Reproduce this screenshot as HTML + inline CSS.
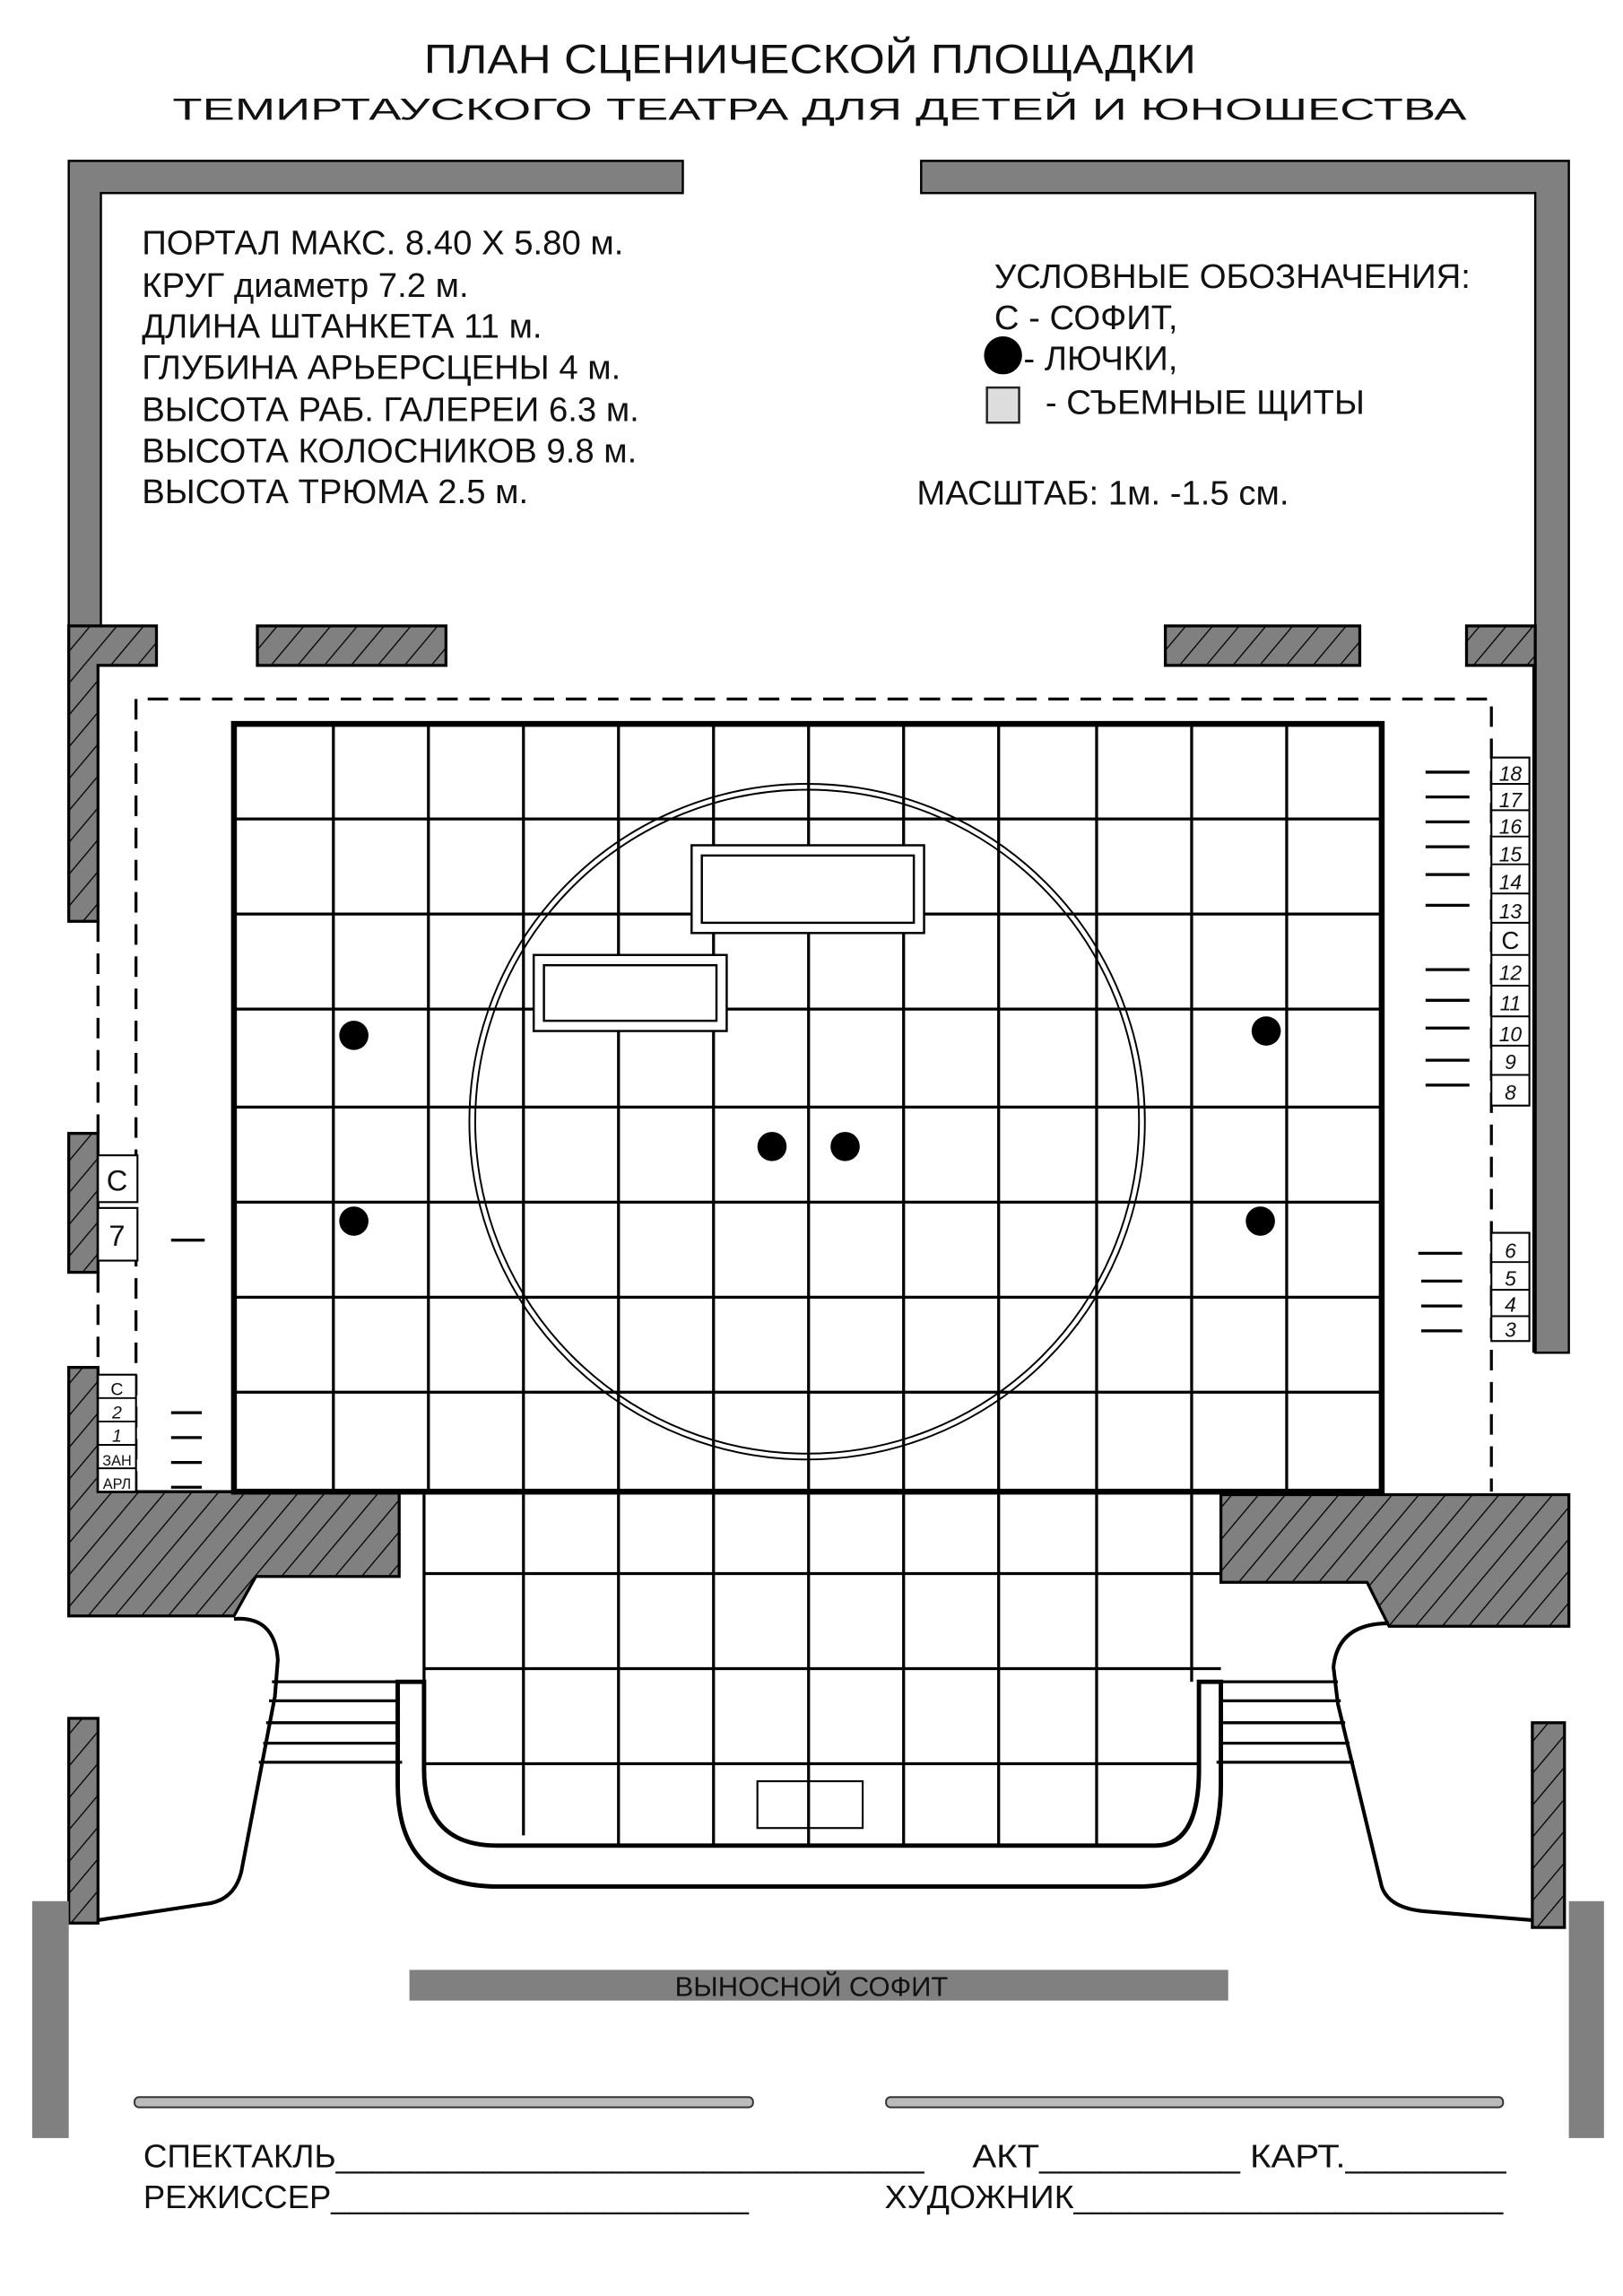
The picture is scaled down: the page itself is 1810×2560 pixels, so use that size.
<!DOCTYPE html>
<html><head><meta charset="utf-8"><style>
html,body{margin:0;padding:0;background:#fff;}
svg{display:block;}
text{font-family:"Liberation Sans",sans-serif;fill:#111;}
</style></head><body>
<svg width="1810" height="2560" viewBox="0 0 1110 1570" xmlns="http://www.w3.org/2000/svg">
<defs>
<pattern id="h" patternUnits="userSpaceOnUse" width="14" height="14" patternTransform="rotate(40)">
<rect width="14" height="14" fill="#808080"/>
<line x1="0" y1="0" x2="0" y2="14" stroke="#000" stroke-width="1.6"/>
</pattern>
</defs>
<rect width="1110" height="1570" fill="#fff"/>
<text x="290" y="50" font-size="28" textLength="528" lengthAdjust="spacingAndGlyphs">ПЛАН СЦЕНИЧЕСКОЙ ПЛОЩАДКИ</text>
<text x="118" y="82" font-size="21" textLength="885" lengthAdjust="spacingAndGlyphs">ТЕМИРТАУСКОГО ТЕАТРА ДЛЯ ДЕТЕЙ И ЮНОШЕСТВА</text>
<g fill="#808080" stroke="#000" stroke-width="1.5">
<path d="M47 110 H467 V132 H69 V430 H47 Z"/>
<path d="M630 110 H1073 V925 H1050 V132 H630 Z"/>
</g>
<g font-size="23.5">
<text x="97" y="174">ПОРТАЛ МАКС. 8.40 Х 5.80 м.</text>
<text x="97" y="203">КРУГ диаметр 7.2 м.</text>
<text x="97" y="231">ДЛИНА ШТАНКЕТА 11 м.</text>
<text x="97" y="259">ГЛУБИНА АРЬЕРСЦЕНЫ 4 м.</text>
<text x="97" y="288">ВЫСОТА РАБ. ГАЛЕРЕИ 6.3 м.</text>
<text x="97" y="316">ВЫСОТА КОЛОСНИКОВ 9.8 м.</text>
<text x="97" y="344">ВЫСОТА ТРЮМА 2.5 м.</text>
<text x="680" y="197">УСЛОВНЫЕ ОБОЗНАЧЕНИЯ:</text>
<text x="680" y="225">С - СОФИТ,</text>
<text x="700" y="253">- ЛЮЧКИ,</text>
<text x="715" y="283">- СЪЕМНЫЕ ЩИТЫ</text>
<text x="627" y="345">МАСШТАБ:  1м. -1.5 см.</text>
</g>
<circle cx="686" cy="243" r="13" fill="#000"/>
<rect x="675" y="265" width="22" height="24" fill="#ddd" stroke="#222" stroke-width="1.5"/>
<g fill="url(#h)" stroke="#000" stroke-width="2">
<path d="M47 428 H107 V455 H67 V630 H47 Z"/>
<rect x="176" y="428" width="129" height="27"/>
<rect x="797" y="428" width="133" height="27"/>
<rect x="1003" y="428" width="47" height="27"/>
<rect x="47" y="775" width="20" height="95"/>
<path d="M47 935 H67 V1020 H273 V1078 H175 L160 1105 H47 Z"/>
<path d="M835 1022 H1073 V1112 H950 L935 1082 H835 Z"/>
<rect x="47" y="1175" width="20" height="140"/>
<rect x="1048" y="1178" width="22" height="140"/>
</g>
<rect x="1048" y="455" width="3" height="470" fill="#000"/>
<g stroke="#000" stroke-width="2" stroke-dasharray="14 8" fill="none">
<path d="M93 1020 V478 H1020 V1020"/>
<path d="M67 630 V775 M67 870 V935"/>
<path d="M160 1020 H835"/>
</g>
<g stroke="#000" stroke-width="2" fill="none">
<line x1="228" y1="495" x2="228" y2="1020"/><line x1="293" y1="495" x2="293" y2="1020"/>
<line x1="358" y1="495" x2="358" y2="1020"/><line x1="423" y1="495" x2="423" y2="1020"/>
<line x1="488" y1="495" x2="488" y2="1020"/><line x1="553" y1="495" x2="553" y2="1020"/>
<line x1="618" y1="495" x2="618" y2="1020"/><line x1="683" y1="495" x2="683" y2="1020"/>
<line x1="750" y1="495" x2="750" y2="1020"/><line x1="815" y1="495" x2="815" y2="1020"/>
<line x1="880" y1="495" x2="880" y2="1020"/>
<line x1="160" y1="560" x2="945" y2="560"/><line x1="160" y1="625" x2="945" y2="625"/>
<line x1="160" y1="690" x2="945" y2="690"/><line x1="160" y1="757" x2="945" y2="757"/>
<line x1="160" y1="822" x2="945" y2="822"/><line x1="160" y1="887" x2="945" y2="887"/>
<line x1="160" y1="952" x2="945" y2="952"/>
<line x1="290" y1="1022" x2="290" y2="1150"/>
<line x1="358" y1="1022" x2="358" y2="1255"/><line x1="423" y1="1022" x2="423" y2="1262"/>
<line x1="488" y1="1022" x2="488" y2="1262"/><line x1="553" y1="1022" x2="553" y2="1262"/>
<line x1="618" y1="1022" x2="618" y2="1262"/><line x1="683" y1="1022" x2="683" y2="1262"/>
<line x1="750" y1="1022" x2="750" y2="1262"/><line x1="815" y1="1022" x2="815" y2="1150"/>
<line x1="290" y1="1076" x2="835" y2="1076"/><line x1="290" y1="1141" x2="835" y2="1141"/>
<line x1="290" y1="1206" x2="835" y2="1206"/>
</g>
<rect x="160" y="495" width="785" height="525" fill="none" stroke="#000" stroke-width="4"/>
<circle cx="552" cy="767" r="231" fill="none" stroke="#000" stroke-width="1.2"/>
<circle cx="552" cy="767" r="227" fill="none" stroke="#000" stroke-width="1.2"/>
<g fill="#fff" stroke="#000" stroke-width="1.5">
<rect x="473" y="578" width="159" height="60"/><rect x="480" y="585" width="145" height="46"/>
<rect x="365" y="653" width="132" height="52"/><rect x="372" y="660" width="118" height="38"/>
</g>
<g fill="#000">
<circle cx="242" cy="708" r="10"/><circle cx="242" cy="835" r="10"/>
<circle cx="866" cy="705" r="10"/><circle cx="862" cy="835" r="10"/>
<circle cx="528" cy="784" r="10"/><circle cx="578" cy="784" r="10"/>
</g>
<g fill="#fff" stroke="#000" stroke-width="1.3">
<rect x="1020" y="518" width="26" height="238"/>
<rect x="1020" y="843" width="26" height="74"/>
<rect x="67" y="790" width="27" height="32"/><rect x="67" y="826" width="27" height="36"/>
<rect x="67" y="940" width="26" height="80"/>
</g>
<g stroke="#000" stroke-width="1.2">
<line x1="1020" y1="536" x2="1046" y2="536"/><line x1="1020" y1="554" x2="1046" y2="554"/>
<line x1="1020" y1="572" x2="1046" y2="572"/><line x1="1020" y1="591" x2="1046" y2="591"/>
<line x1="1020" y1="611" x2="1046" y2="611"/><line x1="1020" y1="631" x2="1046" y2="631"/>
<line x1="1020" y1="653" x2="1046" y2="653"/><line x1="1020" y1="674" x2="1046" y2="674"/>
<line x1="1020" y1="695" x2="1046" y2="695"/><line x1="1020" y1="715" x2="1046" y2="715"/>
<line x1="1020" y1="735" x2="1046" y2="735"/>
<line x1="1020" y1="863" x2="1046" y2="863"/><line x1="1020" y1="882" x2="1046" y2="882"/>
<line x1="1020" y1="900" x2="1046" y2="900"/>
<line x1="67" y1="956" x2="93" y2="956"/><line x1="67" y1="972" x2="93" y2="972"/>
<line x1="67" y1="988" x2="93" y2="988"/><line x1="67" y1="1004" x2="93" y2="1004"/>
</g>
<g font-size="14" text-anchor="middle" font-style="italic">
<text x="1033" y="534">18</text><text x="1033" y="552">17</text><text x="1033" y="570">16</text>
<text x="1033" y="589">15</text><text x="1033" y="608">14</text><text x="1033" y="628">13</text>
<text x="1033" y="649" font-style="normal" font-size="17">С</text><text x="1033" y="670">12</text>
<text x="1033" y="691">11</text><text x="1033" y="712">10</text><text x="1033" y="731">9</text>
<text x="1033" y="752">8</text>
<text x="1033" y="860">6</text><text x="1033" y="879">5</text><text x="1033" y="897">4</text><text x="1033" y="914">3</text>
<text x="80" y="814" font-size="20" font-style="normal">С</text><text x="80" y="852" font-size="20" font-style="normal">7</text>
<text x="80" y="954" font-size="12" font-style="normal">С</text><text x="80" y="970" font-size="12">2</text>
<text x="80" y="986" font-size="12">1</text><text x="80" y="1002" font-size="10" font-style="normal">ЗАН</text>
<text x="80" y="1018" font-size="10" font-style="normal">АРЛ</text>
</g>
<g stroke="#000" stroke-width="2">
<line x1="975" y1="528" x2="1005" y2="528"/><line x1="975" y1="545" x2="1005" y2="545"/>
<line x1="975" y1="562" x2="1005" y2="562"/><line x1="975" y1="579" x2="1005" y2="579"/>
<line x1="975" y1="598" x2="1005" y2="598"/><line x1="975" y1="619" x2="1005" y2="619"/>
<line x1="975" y1="663" x2="1005" y2="663"/><line x1="975" y1="684" x2="1005" y2="684"/>
<line x1="975" y1="703" x2="1005" y2="703"/><line x1="975" y1="725" x2="1005" y2="725"/>
<line x1="975" y1="742" x2="1005" y2="742"/>
<line x1="970" y1="857" x2="1000" y2="857"/><line x1="972" y1="876" x2="1000" y2="876"/>
<line x1="972" y1="893" x2="1000" y2="893"/><line x1="972" y1="910" x2="1000" y2="910"/>
<line x1="117" y1="848" x2="140" y2="848"/>
<line x1="117" y1="966" x2="138" y2="966"/><line x1="117" y1="983" x2="138" y2="983"/>
<line x1="117" y1="1000" x2="138" y2="1000"/><line x1="117" y1="1017" x2="138" y2="1017"/>
</g>
<g fill="none" stroke="#000">
<path d="M272 1150 H290 V1210 Q290 1262 340 1262 H790 Q820 1262 820 1210 V1150 H835 V1220 Q835 1290 780 1290 H340 Q272 1290 272 1220 Z" stroke-width="3" fill="#fff"/>
<line x1="360" y1="1262" x2="750" y2="1262" stroke-width="1"/>
<path d="M160 1107 Q188 1105 190 1135 L188 1160 L165 1280 Q160 1300 140 1302 L67 1313" stroke-width="2.5"/>
<path d="M950 1110 Q915 1110 912 1140 L915 1165 L945 1290 Q950 1305 975 1307 L1048 1313" stroke-width="2.5"/>
<g stroke-width="2">
<line x1="186" y1="1150" x2="272" y2="1150"/><line x1="184" y1="1163" x2="272" y2="1163"/>
<line x1="182" y1="1178" x2="272" y2="1178"/><line x1="180" y1="1192" x2="272" y2="1192"/>
<line x1="177" y1="1205" x2="275" y2="1205"/>
<line x1="835" y1="1150" x2="915" y2="1150"/><line x1="835" y1="1163" x2="917" y2="1163"/>
<line x1="835" y1="1178" x2="920" y2="1178"/><line x1="835" y1="1192" x2="923" y2="1192"/>
<line x1="832" y1="1205" x2="926" y2="1205"/>
</g>
<rect x="518" y="1218" width="72" height="32" stroke-width="1.3"/>
</g>
<rect x="22" y="1300" width="25" height="162" fill="#808080"/>
<rect x="1073" y="1300" width="24" height="162" fill="#808080"/>
<rect x="280" y="1347" width="560" height="21" fill="#808080"/>
<text x="555" y="1365" font-size="19" text-anchor="middle" fill="#222">ВЫНОСНОЙ СОФИТ</text>
<rect x="92" y="1434" width="423" height="7" rx="3" fill="#bbb" stroke="#333" stroke-width="1.2"/>
<rect x="606" y="1434" width="422" height="7" rx="3" fill="#bbb" stroke="#333" stroke-width="1.2"/>
<g font-size="22">
<text x="98" y="1482" textLength="534" lengthAdjust="spacingAndGlyphs">СПЕКТАКЛЬ________________________________</text>
<text x="665" y="1482" textLength="365" lengthAdjust="spacingAndGlyphs">АКТ__________ КАРТ.________</text>
<text x="98" y="1510" textLength="414" lengthAdjust="spacingAndGlyphs">РЕЖИССЕР_______________________</text>
<text x="605" y="1510" textLength="423" lengthAdjust="spacingAndGlyphs">ХУДОЖНИК_______________________</text>
</g>
</svg>
</body></html>
